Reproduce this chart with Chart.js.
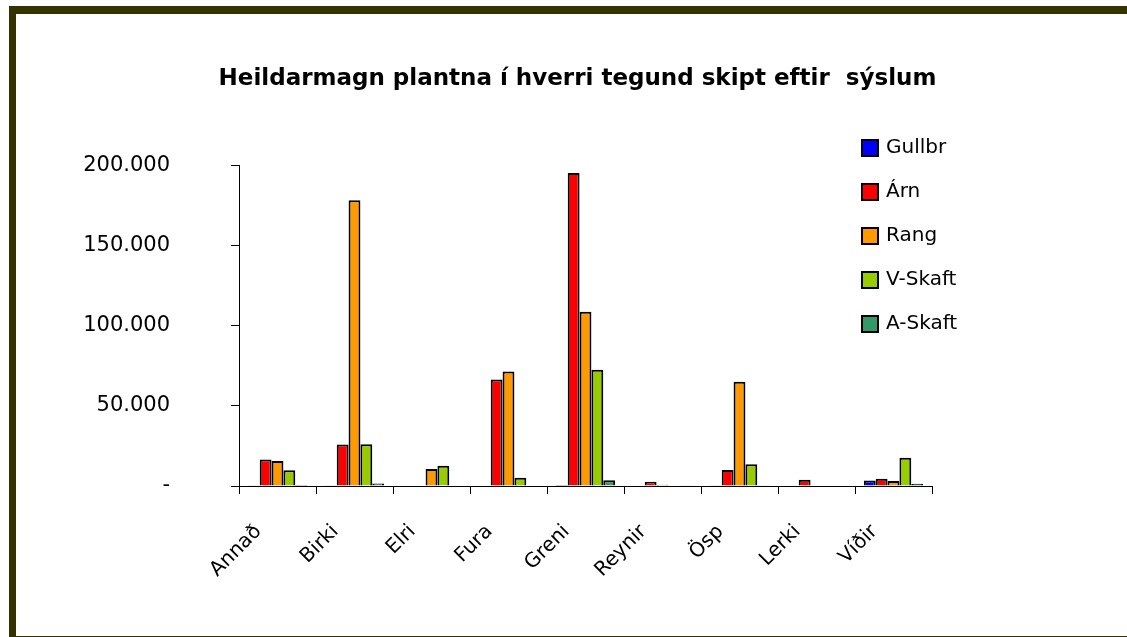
<!DOCTYPE html>
<html>
<head>
<meta charset="utf-8">
<script src="https://cdn.jsdelivr.net/npm/chart.js@4"></script>
<style>
  body { margin: 0; background: #fff; }
  #wrap { position: relative; width: 1127px; height: 637px; overflow: hidden; }
  #cl_chart { position: absolute; left: 0; top: 0; }
  #frame {
    position: absolute; left: 9px; top: 6px; right: 0; bottom: 0;
    border-top: 8px solid #333300; border-left: 7px solid #333300;
    border-bottom: 1px solid #333300; pointer-events: none;
  }
</style>
</head>
<body>
<div id="wrap">
  <canvas id="cl_chart" width="1127" height="637"></canvas>
  <div id="frame"></div>
</div>
<script>
// data
var categories = ["Annað", "Birki", "Elri", "Fura", "Greni", "Reynir", "Ösp", "Lerki", "Víðir"];
var seriesNames = ["Gullbr", "Árn", "Rang", "V-Skaft", "A-Skaft"];
var seriesColors = ["#0000ff", "#ff0000", "#ff9900", "#99cc00", "#339966"];
var gullbr = [500, 500, 0, 0, 600, 0, 500, 0, 3500];
var arn = [16500, 25900, 0, 66500, 195400, 2700, 10000, 3900, 4500];
var rang = [15600, 178300, 10600, 71400, 108700, 800, 65000, 0, 3100];
var vskaft = [9800, 26000, 12700, 5200, 72500, 0, 13500, 0, 17700];
var askaft = [600, 1500, 0, 0, 3600, 500, 500, 0, 1400];
var yTicks = [0, 50000, 100000, 150000, 200000];

var comic = "'Comic Sans MS', 'DejaVu Sans', sans-serif";

function fmt(v) {
    if (v == 0) return "-";
    return String(v).replace(/\B(?=(\d{3})+(?!\d))/g, ".");
}

// legend drawn by hand, it sits partly over the plot like in the original
var sideLegend = {
    id: "sideLegend",
    afterDraw: function (chart) {
        var ctx = chart.ctx;
        ctx.save();
        ctx.font = "20px " + comic;
        ctx.textBaseline = "middle";
        ctx.textAlign = "left";
        chart.data.datasets.forEach(function (ds, i) {
            var y = 148 + i * 44;
            ctx.fillStyle = ds.backgroundColor;
            ctx.fillRect(862, y - 8, 16, 16);
            ctx.lineWidth = 2;
            ctx.strokeStyle = "#000";
            ctx.strokeRect(862, y - 8, 16, 16);
            ctx.fillStyle = "#000";
            ctx.fillText(ds.label, 886, y);
        });
        ctx.restore();
    }
};

var values = [gullbr, arn, rang, vskaft, askaft];
var datasets = seriesNames.map(function (name, i) {
    return {
        label: name,
        data: values[i],
        backgroundColor: seriesColors[i],
        borderColor: "#000",
        borderWidth: 2,
        categoryPercentage: 0.77,
        barPercentage: 1.0
    };
});

var mainchart = new Chart("cl_chart", {
    type: "bar",
    data: { labels: categories, datasets: datasets },
    options: {
        responsive: false,
        animation: false,
        layout: { padding: { left: 28, right: 0, top: 0, bottom: 0 } },
        plugins: {
            legend: { display: false },
            tooltip: { enabled: false },
            title: {
                display: true,
                text: "Heildarmagn plantna í hverri tegund skipt eftir  sýslum",
                color: "#000",
                font: { family: comic, size: 23, weight: "bold", lineHeight: 1.2 },
                padding: { top: 65, bottom: 73 }
            }
        },
        scales: {
            x: {
                afterFit: function (scale) { scale.height = 151; },
                grid: { drawOnChartArea: false, tickLength: 8, tickColor: "#000", offset: true },
                border: { color: "#000", width: 1 },
                ticks: {
                    color: "#000",
                    font: { family: comic, size: 20 },
                    minRotation: 45,
                    maxRotation: 45,
                    autoSkip: false,
                    labelOffset: -19,
                    padding: 26
                }
            },
            y: {
                min: 0,
                max: 200000,
                afterFit: function (scale) { scale.width = 211; },
                afterBuildTicks: function (scale) {
                    scale.ticks = yTicks.map(function (v) { return { value: v }; });
                },
                grid: { drawOnChartArea: false, tickLength: 8, tickColor: "#000" },
                border: { color: "#000", width: 1 },
                ticks: {
                    color: "#000",
                    font: { family: "'DejaVu Sans', sans-serif", size: 21 },
                    padding: 61,
                    callback: function (v) { return fmt(v); }
                }
            },
            // empty box on the right so the plot stops where the original does
            spacer: {
                type: "linear",
                position: "right",
                afterFit: function (scale) { scale.width = 195; },
                grid: { display: false },
                border: { display: false },
                ticks: { display: false }
            }
        }
    },
    plugins: [sideLegend]
});
</script>
</body>
</html>
